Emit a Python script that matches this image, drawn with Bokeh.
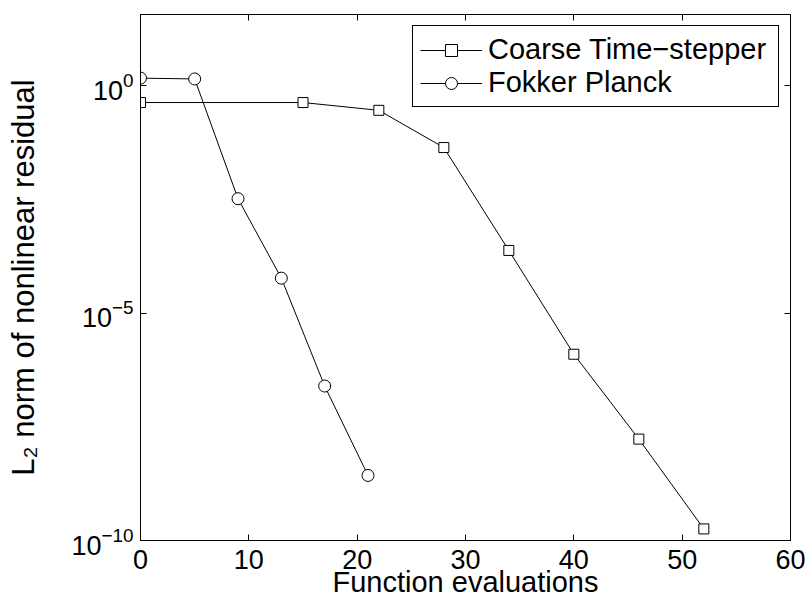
from bokeh.plotting import figure
from bokeh.models import Range1d, FixedTicker, LinearAxis, LogAxis, LogTickFormatter, CustomJSTickFormatter
from bokeh.embed import file_html
from bokeh.resources import INLINE

# ---- data ----
coarse_x = [0, 15, 22, 28, 34, 40, 46, 52]
coarse_y = [0.43, 0.43, 0.29, 0.044, 2.4e-4, 1.25e-6, 1.7e-8, 1.8e-10]
fp_x = [0, 5, 9, 13, 17, 21]
fp_y = [1.48, 1.42, 3.3e-3, 5.9e-5, 2.5e-7, 2.7e-9]
x_ticks = [0, 10, 20, 30, 40, 50, 60]
y_tick_vals = [1e-10, 1e-5, 1e0]
series_names = ["Coarse Time\u2212stepper", "Fokker Planck"]
x_title = "Function evaluations"
y_title = "L\u2082 norm of nonlinear residual"

FONT = "Liberation Sans"

p = figure(width=809, height=609, x_range=Range1d(0, 60),
           y_range=Range1d(1e-10, 10 ** 1.57), y_axis_type="log",
           output_backend="svg", toolbar_location=None,
           min_border_left=140, min_border_right=19, min_border_top=14, min_border_bottom=69)
p.xgrid.visible = False
p.ygrid.visible = False
p.outline_line_color = "black"
p.outline_line_width = 1
p.outline_line_alpha = 1
p.background_fill_color = "white"
p.border_fill_color = "white"

empty = CustomJSTickFormatter(code="return ''")

# bottom axis
xa = p.xaxis[0]
xa.ticker = FixedTicker(ticks=x_ticks)
xa.major_tick_in = 6
xa.major_tick_out = 0
xa.minor_tick_line_color = None
xa.axis_line_color = "black"
xa.major_label_text_font = FONT
xa.major_label_text_font_size = "27px"
xa.major_label_text_color = "black"
xa.major_label_standoff = 9
xa.axis_label = x_title
xa.axis_label_text_font = FONT
xa.axis_label_text_font_size = "29px"
xa.axis_label_text_font_style = "normal"
xa.axis_label_text_color = "black"
xa.axis_label_standoff = -6

# left axis
ya = p.yaxis[0]
ya.ticker = FixedTicker(ticks=y_tick_vals)
ya.formatter = LogTickFormatter()
ya.major_label_text_font = FONT
ya.major_label_text_font_size = "27px"
ya.major_label_text_color = "black"
ya.major_label_standoff = 7
ya.major_tick_in = 6
ya.major_tick_out = 0
ya.minor_tick_line_color = None
ya.axis_line_color = "black"
ya.axis_label = y_title
ya.axis_label_text_font = FONT
ya.axis_label_text_font_size = "31px"
ya.axis_label_text_font_style = "normal"
ya.axis_label_text_color = "black"
ya.axis_label_standoff = 27

# top and right axes (box ticks)
top = LinearAxis(ticker=FixedTicker(ticks=x_ticks), formatter=empty,
                 major_label_text_font_size="0px", major_tick_in=6, major_tick_out=0,
                 minor_tick_line_color=None, axis_line_color="black")
p.add_layout(top, "above")
right = LogAxis(ticker=FixedTicker(ticks=y_tick_vals), formatter=empty,
                major_label_text_font_size="0px", major_tick_in=6, major_tick_out=0,
                minor_tick_line_color=None, axis_line_color="black")
p.add_layout(right, "right")

# series
p.line(coarse_x, coarse_y, line_color="black", line_width=1, legend_label=series_names[0])
p.scatter(coarse_x, coarse_y, marker="square", size=10, fill_color="white",
          line_color="black", line_width=1, legend_label=series_names[0])
p.line(fp_x, fp_y, line_color="black", line_width=1, legend_label=series_names[1])
p.scatter(fp_x, fp_y, marker="circle", size=12, fill_color="white",
          line_color="black", line_width=1, legend_label=series_names[1])

lg = p.legend[0]
lg.location = "top_right"
lg.margin = 11
lg.border_line_color = "black"
lg.border_line_width = 1
lg.border_line_alpha = 1
lg.background_fill_color = "white"
lg.background_fill_alpha = 1
lg.label_text_font = FONT
lg.label_text_font_size = "29px"
lg.label_text_color = "black"
lg.glyph_width = 62
lg.glyph_height = 30
lg.label_standoff = 6
lg.label_width = 283
lg.padding = 7
lg.spacing = 0

open("out.html", "w").write(file_html(p, INLINE))
